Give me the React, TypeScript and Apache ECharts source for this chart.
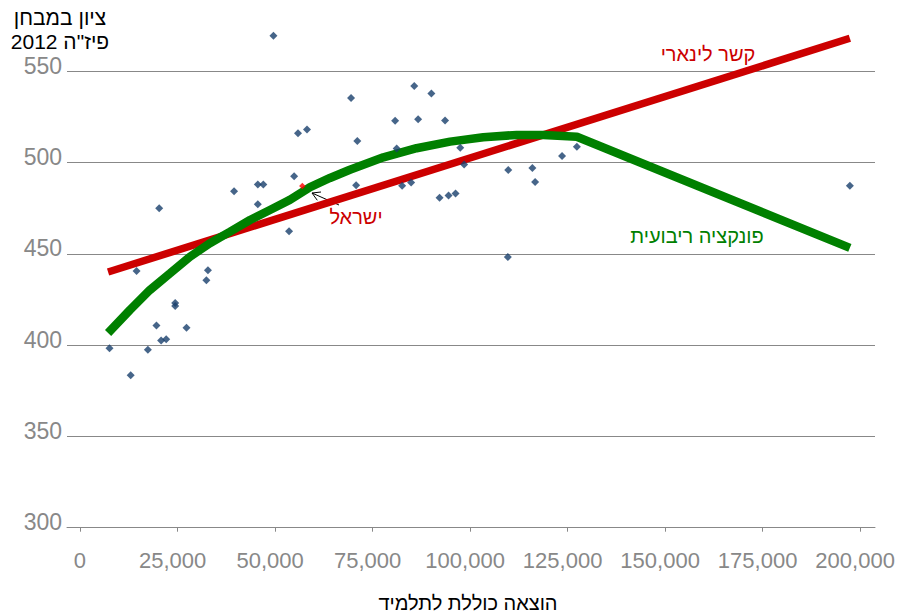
import React, { useEffect, useRef } from "react";
import * as echarts from "echarts";

const xTickValues = [0, 25000, 50000, 75000, 100000, 125000, 150000, 175000, 200000];

const countryX = [
  7560, 13000, 14500, 17400, 19600, 20300, 20800, 22100, 24400, 24400,
  27300, 32400, 32800, 39500, 45600, 45600, 47000, 49600, 53600, 54900,
  55900, 58200, 69500, 70800, 71100, 80800, 81200, 82600, 84900, 85700,
  86700, 90100, 92200, 93600, 94500, 96300, 97500, 98500, 109800, 109700,
  116000, 116700, 123600, 127400, 197400,
];
const countryY = [
  398.2, 383.5, 440.6, 397.5, 410.7, 474.9, 402.5, 403.2, 423.1, 421.4,
  409.5, 435.5, 441.0, 484.3, 477.1, 488.0, 488.0, 569.4, 462.3, 492.4,
  516.0, 518.0, 535.3, 487.5, 511.8, 522.9, 507.6, 487.2, 489.0, 541.9,
  523.7, 537.7, 480.7, 523.0, 481.9, 483.0, 508.1, 498.9, 495.9, 448.2,
  497.0, 489.3, 503.6, 508.6, 487.3,
];

const israelX = 57000;
const israelY = 487.1;

const linearX = [7200, 197400];
const linearY = [440.0, 568.0];

const quadX = [7200, 12800, 17900, 23100, 28200, 33300, 38500, 43600, 48700, 53800, 59000, 64100, 69200, 77800, 86300, 94900, 103400, 112000, 118800, 127400, 197400];
const quadY = [406.6, 419.2, 430.1, 439.3, 448.4, 455.8, 462.1, 468.5, 474.0, 479.5, 486.5, 491.5, 496.0, 502.8, 507.8, 511.4, 513.8, 515.1, 515.1, 514.1, 453.2];

const FONT = '"Liberation Sans", Arial, "DejaVu Sans", sans-serif';

function txt(text: string, x: number, y: number, color: string, size: number) {
  return {
    type: "text",
    x,
    y,
    silent: true,
    style: {
      text,
      fill: color,
      font: `${size}px ${FONT}`,
      align: "center",
      verticalAlign: "middle",
      textAlign: "center",
      textVerticalAlign: "middle",
    },
  };
}

export default function App() {
  const ref = useRef<HTMLDivElement>(null);
  useEffect(() => {
    if (!ref.current) return;
    const chart = echarts.init(ref.current, undefined, { renderer: "svg" });
    const scatterData = countryX.map((x, i) => [x, countryY[i]]);
    const linearData = linearX.map((x, i) => [x, linearY[i]]);
    const quadData = quadX.map((x, i) => [x, quadY[i]]);
    const g = "#888888";
    // multi-digit labels sit slightly left of their ticks in the reference
    const labelValues = xTickValues.map((v) => (v === 0 ? 0 : v - 1250));
    chart.setOption({
      animation: false,
      backgroundColor: "#ffffff",
      grid: { left: 67, right: 24, top: 25.5, bottom: 86.3, containLabel: false },
      xAxis: {
        type: "value",
        min: -3333,
        max: 203846,
        axisLine: { show: true, lineStyle: { color: g, width: 1 } },
        axisTick: { show: true, customValues: xTickValues, length: 4, lineStyle: { color: g } },
        axisLabel: {
          customValues: labelValues,
          color: g,
          fontSize: 22,
          fontFamily: FONT,
          margin: 22,
          formatter: (v: number) => {
            const r = Math.round(v / 25000) * 25000;
            return (r === 0 ? 0 : r).toLocaleString("en-US");
          },
        },
        splitLine: { show: false },
      },
      yAxis: {
        type: "value",
        min: 300,
        max: 575,
        interval: 50,
        axisLine: { show: false },
        axisTick: { show: false },
        splitLine: {
          show: true,
          lineStyle: { color: [g, g, g, g, g, g, "rgba(0,0,0,0)"], width: 1 },
        },
        axisLabel: {
          color: g,
          fontSize: 23,
          fontFamily: FONT,
          margin: 5,
          verticalAlign: "bottom",
          lineHeight: 11,
          showMaxLabel: false,
          formatter: (v: number) => (v % 50 === 0 ? String(v) : ""),
        },
      },
      series: [
        {
          type: "line",
          data: linearData,
          symbol: "none",
          lineStyle: { color: "#cc0000", width: 7.5 },
          z: 2,
        },
        {
          type: "line",
          data: quadData,
          symbol: "none",
          lineStyle: { color: "#008000", width: 8.5 },
          z: 3,
        },
        {
          type: "scatter",
          data: scatterData,
          symbol: "diamond",
          symbolSize: 8,
          itemStyle: { color: "#183f6b" },
          z: 4,
        },
        {
          type: "scatter",
          data: [[israelX, israelY]],
          symbol: "diamond",
          symbolSize: 6.5,
          itemStyle: { color: "#ff0000" },
          z: 5,
        },
      ],
      graphic: [
        txt("ציון במבחן", 60, 17, "#000000", 21),
        txt('פיז"ה 2012', 60, 41, "#000000", 21),
        txt("הוצאה כוללת לתלמיד", 468, 603, "#000000", 20),
        txt("קשר לינארי", 708, 54, "#cc0000", 20),
        txt("פונקציה ריבועית", 697, 236, "#008000", 20),
        txt("ישראל", 356, 217, "#cc0000", 20),
        {
          type: "line",
          silent: true,
          shape: { x1: 339, y1: 205, x2: 312, y2: 193 },
          style: { stroke: "#000000", lineWidth: 1 },
        },
        {
          type: "polyline",
          silent: true,
          shape: { points: [[321, 192], [312, 193], [317.3, 200.3]] },
          style: { stroke: "#000000", lineWidth: 1, fill: "none" },
        },
      ],
    });
    return () => chart.dispose();
  }, []);
  return <div ref={ref} style={{ position: "fixed", left: 0, top: 0, width: 899, height: 614 }} />;
}
